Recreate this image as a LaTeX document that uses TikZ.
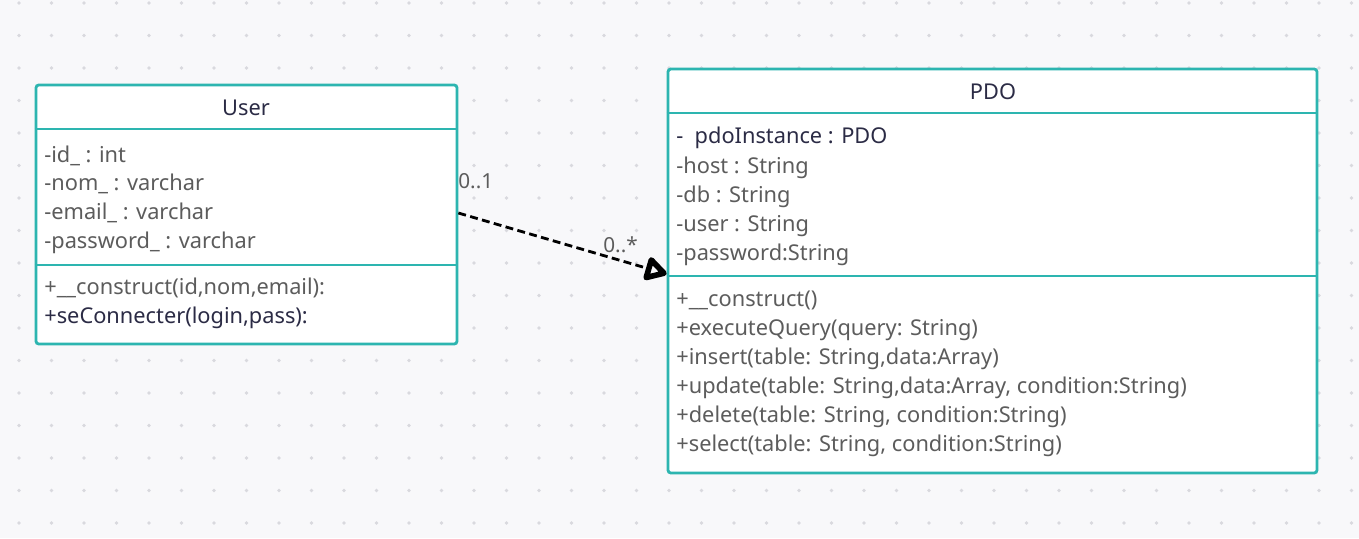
\documentclass[tikz,border=0pt]{standalone}
\usepackage{fontspec}
\setmainfont{Noto Sans}
\usepackage{xcolor}
\usepackage{tikz}
\usetikzlibrary{arrows.meta,positioning}

\definecolor{umlteal}{HTML}{2DB5B0}
\definecolor{membergrey}{HTML}{5C5C5C}
\definecolor{titlenavy}{HTML}{2B2B45}
\definecolor{canvasgrey}{HTML}{F8F8FA}
\definecolor{dotgrey}{HTML}{D9D9DE}

\tikzset{
  classbox/.style={draw=umlteal, line width=1.6pt, fill=white, rounded corners=1.5pt, inner sep=0pt},
  divider/.style={draw=umlteal, line width=1.6pt},
  member/.style={anchor=base west, inner sep=0pt, text=membergrey, font=\fontsize{12.4}{14}\selectfont},
  title/.style={anchor=base, inner sep=0pt, text=titlenavy, font=\fontsize{12.4}{14}\selectfont},
  mult/.style={anchor=base west, inner sep=0pt, text=membergrey, font=\fontsize{11.8}{13}\selectfont},
}

\begin{document}
\begin{tikzpicture}[x=0.02cm, y=-0.02cm]
    \useasboundingbox (0,0) rectangle (1359,538);
    % canvas and dot grid
    \fill[canvasgrey] (0,0) rectangle (1359,538);
    \foreach \i in {0,...,41}
      \foreach \j in {0,...,16}
        \fill[dotgrey] (19+32.5*\i, 3+32.5*\j) circle (1.1pt);

    % class User
    \node[classbox, minimum width=8.42cm, minimum height=5.18cm] (user) at (246.5,214.5) {};
    \draw[divider] (user.west |- 0,129) -- (user.east |- 0,129);
    \draw[divider] (user.west |- 0,265) -- (user.east |- 0,265);
    \node[title] (user-name) at (246,115) {User};
    \node[member] (user-id) at (44,162) {-id\_ : int};
    \node[member] (user-nom) at (44,190) {-nom\_ : varchar};
    \node[member] (user-email) at (44,219) {-email\_ : varchar};
    \node[member] (user-pass) at (44,248) {-password\_ : varchar};
    \node[member] (user-ctor) at (44,294) {+\_\_construct(id,nom,email):};
    \node[member, text=titlenavy] (user-conn) at (44,323) {+seConnecter(login,pass):};

    % class PDO
    \node[classbox, minimum width=12.98cm, minimum height=8.08cm] (pdo) at (992.5,271) {};
    \draw[divider] (pdo.west |- 0,113) -- (pdo.east |- 0,113);
    \draw[divider] (pdo.west |- 0,276) -- (pdo.east |- 0,276);
    \node[title] (pdo-name) at (993,99) {PDO};
    \node[member, text=titlenavy] (pdo-inst) at (676,143) {-\ \ pdoInstance : PDO};
    \node[member] (pdo-host) at (676,173) {-host : String};
    \node[member] (pdo-db) at (676,202) {-db : String};
    \node[member] (pdo-user) at (676,231) {-user : String};
    \node[member] (pdo-pass) at (676,260) {-password:String};
    \node[member] (pdo-ctor) at (676,306) {+\_\_construct()};
    \node[member] (pdo-exec) at (676,335) {+executeQuery(query: String)};
    \node[member] (pdo-insert) at (676,364) {+insert(table: String,data:Array)};
    \node[member] (pdo-update) at (676,393) {+update(table: String,data:Array, condition:String)};
    \node[member] (pdo-delete) at (676,422) {+delete(table: String, condition:String)};
    \node[member] (pdo-select) at (676,451) {+select(table: String, condition:String)};

    % dependency
    \coordinate (dep-from) at (user.east |- 0,213);
    \coordinate (dep-to) at (pdo.west |- 0,274);
    \draw[line width=1.6pt, dash pattern=on 4.5pt off 2.5pt,
      -{Triangle[open, length=14pt, width=15pt, line width=3.2pt, round]}]
      (dep-from) -- (dep-to);
    \node[mult] (mult-user) at (458,188) {0..1};
    \node[mult] (mult-pdo) at (603,252) {0..*};
\end{tikzpicture}
\end{document}
